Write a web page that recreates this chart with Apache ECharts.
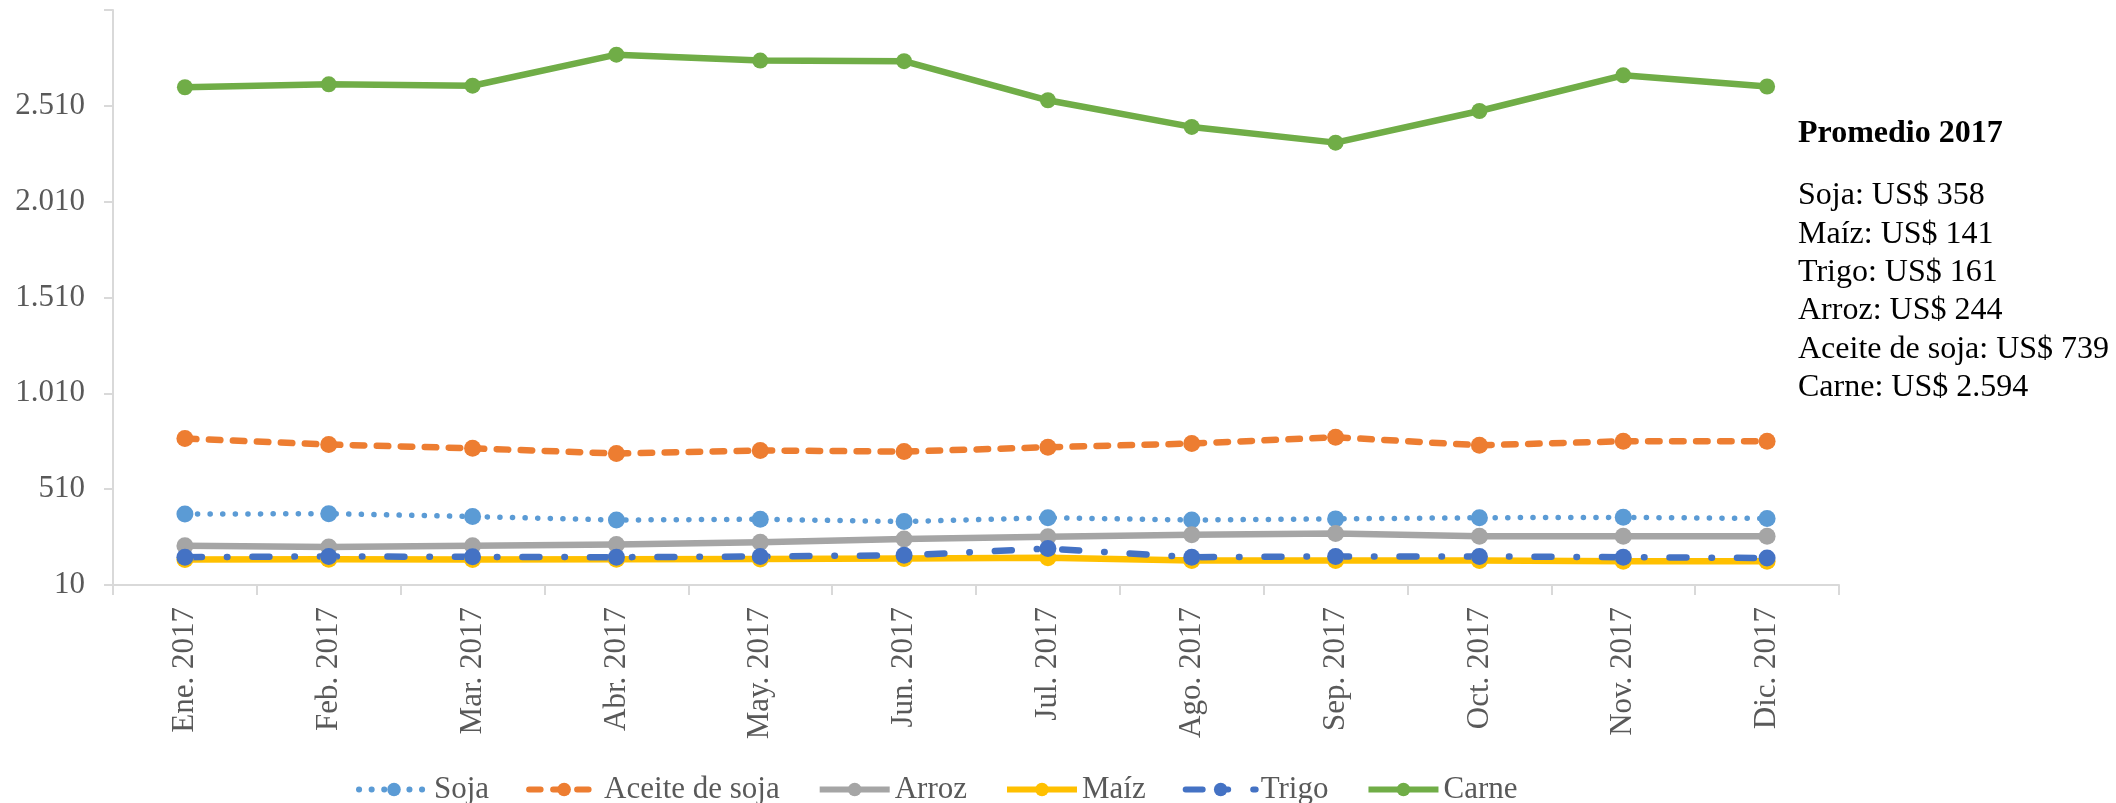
<!DOCTYPE html>
<html>
<head>
<meta charset="utf-8">
<script src="https://cdn.jsdelivr.net/npm/echarts@6/dist/echarts.min.js"></script>
<style>
html,body{margin:0;padding:0;background:#fff;}
#chart{width:2116px;height:803px;}
</style>
</head>
<body>
<div id="chart"></div>
<script>
const categories = ['Ene. 2017','Feb. 2017','Mar. 2017','Abr. 2017','May. 2017','Jun. 2017','Jul. 2017','Ago. 2017','Sep. 2017','Oct. 2017','Nov. 2017','Dic. 2017'];
const soja   = [380, 382, 367, 349, 353, 341, 361, 349, 355, 361, 363, 357];
const aceite = [774, 743, 723, 696, 712, 706, 729, 748, 781, 739, 760, 760];
const arroz  = [215, 208, 215, 221, 233, 250, 262, 272, 279, 264, 264, 264];
const maiz   = [143, 144, 143, 144, 146, 148, 152, 138, 138, 138, 134, 134];
const trigo  = [155, 159, 157, 155, 159, 165, 200, 155, 159, 159, 155, 151];
const carne  = [2607, 2622, 2615, 2777, 2746, 2743, 2539, 2400, 2318, 2483, 2669, 2611];
const yTicks = [10, 510, 1010, 1510, 2010, 2510, 3010];
const noteTitle = 'Promedio 2017';
const noteLines = ['Soja: US$ 358','Maíz: US$ 141','Trigo: US$ 161','Arroz: US$ 244','Aceite de soja: US$ 739','Carne: US$ 2.594'];

const FONT = '"Liberation Serif","Times New Roman",serif';
const fmt = v => String(v).replace(/\B(?=(\d{3})+(?!\d))/g, '.');

function mk(name, data, color, type, width, cap, size) {
  return {
    name, type: 'line', data,
    symbol: 'circle', symbolSize: size,
    itemStyle: { color },
    lineStyle: { color, width, type, cap: cap || 'butt', join: 'round' },
    emphasis: { disabled: true },
    animation: false
  };
}

const chart = echarts.init(document.getElementById('chart'));
const graphic = [{
  type: 'text', left: 1798, top: 135 - 17,
  style: { text: noteTitle, fontFamily: FONT, fontSize: 32, fontWeight: 'bold', fill: '#000' }
}];
noteLines.forEach((t, i) => {
  graphic.push({
    type: 'text', left: 1798, top: 197 + i * 38.3 - 17,
    style: { text: t, fontFamily: FONT, fontSize: 32, fill: '#000' }
  });
});

chart.setOption({
  animation: false,
  backgroundColor: '#fff',
  textStyle: { fontFamily: FONT },
  grid: { left: 113, right: 277, top: 10, bottom: 218, containLabel: false },
  legend: {
    left: 351, top: 769,
    itemWidth: 70, itemHeight: 17, itemGap: 37,
    lineStyle: { width: 6 },
    textStyle: { fontFamily: FONT, fontSize: 31, color: '#595959' },
    data: ['Soja','Aceite de soja','Arroz','Maíz','Trigo','Carne']
  },
  xAxis: {
    type: 'category', data: categories, boundaryGap: true,
    axisLine: { lineStyle: { color: '#d9d9d9', width: 2 } },
    axisTick: { show: true, length: 10, lineStyle: { color: '#d9d9d9', width: 2 } },
    axisLabel: { rotate: 90, margin: 22, fontFamily: FONT, fontSize: 31, color: '#595959' },
    splitLine: { show: false }
  },
  yAxis: {
    type: 'value', min: yTicks[0], max: yTicks[yTicks.length - 1], interval: yTicks[1] - yTicks[0],
    axisLine: { show: true, lineStyle: { color: '#d9d9d9', width: 2 } },
    axisTick: { show: true, length: 9, lineStyle: { color: '#d9d9d9', width: 2 } },
    axisLabel: {
      margin: 28, fontFamily: FONT, fontSize: 31, color: '#595959',
      formatter: v => (v === yTicks[yTicks.length - 1] ? '' : fmt(v))
    },
    splitLine: { show: false }
  },
  graphic,
  series: [
    mk('Soja', soja, '#5B9BD5', [0.1, 12.5], 5.5, 'round', 17),
    mk('Aceite de soja', aceite, '#ED7D31', [11.5, 12.5], 6.5, 'round', 17),
    mk('Arroz', arroz, '#A5A5A5', 'solid', 6.5, 'butt', 17),
    mk('Maíz', maiz, '#FFC000', 'solid', 6.5, 'butt', 17),
    mk('Trigo', trigo, '#4472C4', [17, 25, 0.5, 25], 6.5, 'round', 17),
    mk('Carne', carne, '#70AD47', 'solid', 6.5, 'butt', 16)
  ]
});
</script>
</body>
</html>
